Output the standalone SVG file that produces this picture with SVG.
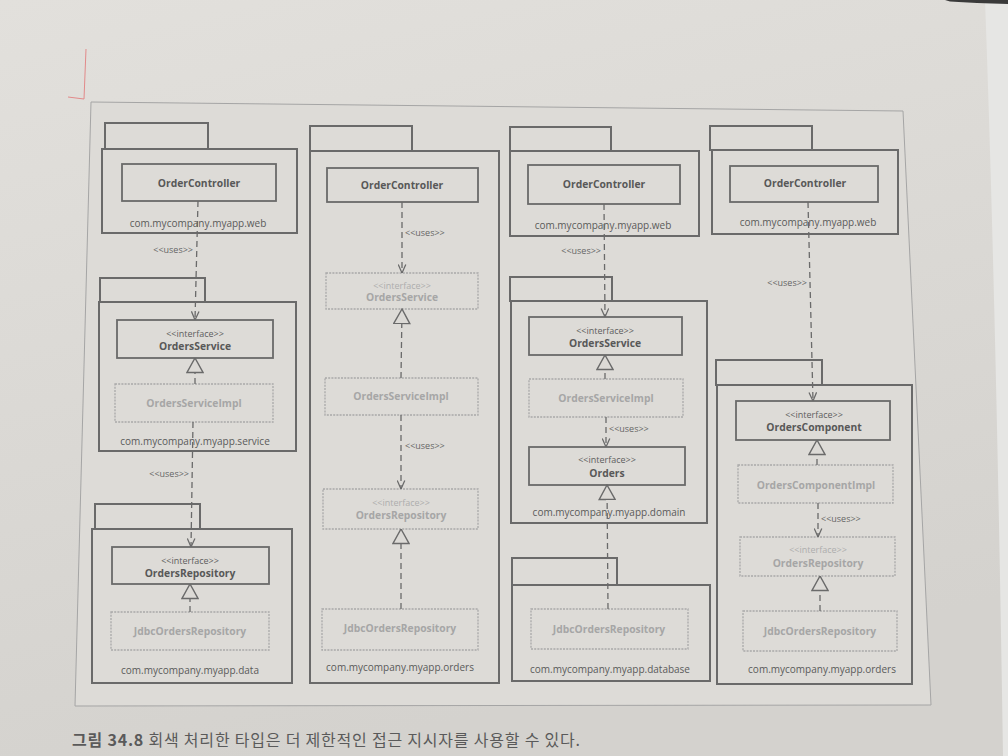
<svg xmlns="http://www.w3.org/2000/svg" width="1008" height="756" viewBox="0 0 1008 756">
<defs>
<linearGradient id="bg" x1="0" y1="0" x2="0.3" y2="1">
<stop offset="0" stop-color="#e2e0dc"/>
<stop offset="1" stop-color="#d4d2ce"/>
</linearGradient>
<marker id="open" viewBox="0 0 10 10" refX="10" refY="5" markerWidth="9" markerHeight="9" orient="auto" markerUnits="userSpaceOnUse">
<path d="M0.5,0.8 L10,5 L0.5,9.2" fill="none" stroke="#6a6a6a" stroke-width="1.4"/>
</marker>
<marker id="tri" viewBox="0 0 16 18" refX="15.5" refY="9" markerWidth="16" markerHeight="18" orient="auto" markerUnits="userSpaceOnUse">
<path d="M15.5,9 L1,1 L1,17 Z" fill="#dcdad6" stroke="#6a6a6a" stroke-width="1.4"/>
</marker>
<style>
.pkg{fill:none;stroke:#6a6a6a;stroke-width:2}
.cls{fill:none;stroke:#6a6a6a;stroke-width:1.8}
.gcls{fill:none;stroke:#a9a9a9;stroke-width:1.3;stroke-dasharray:2 1.2}
.dep{fill:none;stroke:#6a6a6a;stroke-width:1.3;stroke-dasharray:6 4}
.use{marker-end:url(#open)}
.real{marker-end:url(#tri)}
text{font-family:"Open Sans","Noto Sans","DejaVu Sans",sans-serif;text-anchor:middle}
.nm{font-size:10.3px;font-weight:bold;fill:#585858}
.gnm{font-size:10.3px;font-weight:bold;fill:#a6a6a6}
.st{font-size:9px;fill:#5e5e5e}
.gst{font-size:9px;fill:#adadad}
.pl{font-size:10px;fill:#5a5a5a}
.lbs{font-size:9px;fill:#666;text-anchor:start}
.lbe{font-size:9px;fill:#666;text-anchor:end}
</style>
</defs>
<rect x="0" y="0" width="1008" height="756" fill="url(#bg)"/>
<path d="M985,0 Q996,300 1003,756 L1008,756 L1008,0 Z" fill="#e6e6e4"/>
<path d="M945,0 L1008,0 L1008,4 Q975,3 950,1.5 Z" fill="#3a3a3a"/>
<polygon points="91,102 903,111 931,705 75,706" fill="#dddbd7" stroke="#a5a5a5" stroke-width="1"/>
<path d="M86,49 L84,99 L68,97" fill="none" stroke="#e28a8a" stroke-width="1"/>

<!-- Column 1 -->
<g id="pkg1-web"><rect class="pkg" x="105" y="123" width="103" height="26"/><rect class="pkg" x="102" y="149" width="195" height="84"/><text class="pl" x="198" y="227">com.mycompany.myapp.web</text></g>
<g id="c1-controller"><rect class="cls" x="122" y="164" width="154" height="37"/><text class="nm" x="199" y="186.5">OrderController</text></g>
<g id="pkg1-service"><rect class="pkg" x="100" y="278" width="105" height="24"/><rect class="pkg" x="99" y="302" width="197" height="149"/><text class="pl" x="195" y="445">com.mycompany.myapp.service</text></g>
<g id="c1-service"><rect class="cls" x="117" y="320" width="156" height="38"/><text class="st" x="195" y="337">&lt;&lt;interface&gt;&gt;</text><text class="nm" x="195" y="349.5">OrdersService</text></g>
<g id="c1-serviceimpl"><rect class="gcls" x="115" y="384" width="158" height="38"/><text class="gnm" x="194" y="407">OrdersServiceImpl</text></g>
<g id="pkg1-data"><rect class="pkg" x="95" y="504" width="105" height="25"/><rect class="pkg" x="92" y="529" width="200" height="154"/><text class="pl" x="190" y="674">com.mycompany.myapp.data</text></g>
<g id="c1-repo"><rect class="cls" x="112" y="547" width="157" height="37"/><text class="st" x="190" y="564">&lt;&lt;interface&gt;&gt;</text><text class="nm" x="190" y="577">OrdersRepository</text></g>
<g id="c1-jdbc"><rect class="gcls" x="111" y="612" width="158" height="38"/><text class="gnm" x="190" y="635">JdbcOrdersRepository</text></g>

<!-- Column 2 -->
<g id="pkg2-orders"><rect class="pkg" x="310" y="126" width="102" height="25"/><rect class="pkg" x="310" y="151" width="189" height="532"/><text class="pl" x="400" y="671">com.mycompany.myapp.orders</text></g>
<g id="c2-controller"><rect class="cls" x="327" y="168" width="151" height="34"/><text class="nm" x="402" y="189">OrderController</text></g>
<g id="c2-service"><rect class="gcls" x="326" y="273" width="152" height="36"/><text class="gst" x="402" y="289">&lt;&lt;interface&gt;&gt;</text><text class="gnm" x="402" y="301">OrdersService</text></g>
<g id="c2-serviceimpl"><rect class="gcls" x="325" y="378" width="153" height="37"/><text class="gnm" x="401" y="400">OrdersServiceImpl</text></g>
<g id="c2-repo"><rect class="gcls" x="323" y="489" width="155" height="40"/><text class="gst" x="401" y="506">&lt;&lt;interface&gt;&gt;</text><text class="gnm" x="401" y="519">OrdersRepository</text></g>
<g id="c2-jdbc"><rect class="gcls" x="322" y="609" width="156" height="41"/><text class="gnm" x="400" y="632">JdbcOrdersRepository</text></g>

<!-- Column 3 -->
<g id="pkg3-web"><rect class="pkg" x="510" y="127" width="101" height="24"/><rect class="pkg" x="510" y="151" width="189" height="85"/><text class="pl" x="603" y="229">com.mycompany.myapp.web</text></g>
<g id="c3-controller"><rect class="cls" x="528" y="165" width="152" height="39"/><text class="nm" x="604" y="188">OrderController</text></g>
<g id="pkg3-domain"><rect class="pkg" x="510" y="277" width="102" height="24"/><rect class="pkg" x="511" y="301" width="196" height="222"/><text class="pl" x="609" y="516">com.mycompany.myapp.domain</text></g>
<g id="c3-service"><rect class="cls" x="529" y="317" width="153" height="38"/><text class="st" x="605" y="334">&lt;&lt;interface&gt;&gt;</text><text class="nm" x="605" y="346.5">OrdersService</text></g>
<g id="c3-serviceimpl"><rect class="gcls" x="529" y="379" width="154" height="38"/><text class="gnm" x="606" y="402">OrdersServiceImpl</text></g>
<g id="c3-orders"><rect class="cls" x="529" y="447" width="156" height="38"/><text class="st" x="607" y="463">&lt;&lt;interface&gt;&gt;</text><text class="nm" x="607" y="477">Orders</text></g>
<g id="pkg3-database"><rect class="pkg" x="512" y="558" width="105" height="27"/><rect class="pkg" x="512" y="585" width="198" height="96"/><text class="pl" x="610" y="673">com.mycompany.myapp.database</text></g>
<g id="c3-jdbc"><rect class="gcls" x="531" y="609" width="157" height="40"/><text class="gnm" x="609" y="633">JdbcOrdersRepository</text></g>

<!-- Column 4 -->
<g id="pkg4-web"><rect class="pkg" x="710" y="126" width="102" height="24"/><rect class="pkg" x="712" y="150" width="186" height="84"/><text class="pl" x="808" y="226">com.mycompany.myapp.web</text></g>
<g id="c4-controller"><rect class="cls" x="730" y="166" width="148" height="36"/><text class="nm" x="805" y="187">OrderController</text></g>
<g id="pkg4-orders"><rect class="pkg" x="716" y="360" width="106" height="25"/><rect class="pkg" x="717" y="385" width="195" height="299"/><text class="pl" x="822" y="673">com.mycompany.myapp.orders</text></g>
<g id="c4-component"><rect class="cls" x="736" y="401" width="154" height="39"/><text class="st" x="814" y="418">&lt;&lt;interface&gt;&gt;</text><text class="nm" x="814" y="430.5">OrdersComponent</text></g>
<g id="c4-componentimpl"><rect class="gcls" x="738" y="465" width="155" height="38"/><text class="gnm" x="816" y="489">OrdersComponentImpl</text></g>
<g id="c4-repo"><rect class="gcls" x="740" y="537" width="155" height="39"/><text class="gst" x="818" y="553">&lt;&lt;interface&gt;&gt;</text><text class="gnm" x="818" y="567">OrdersRepository</text></g>
<g id="c4-jdbc"><rect class="gcls" x="743" y="611" width="154" height="40"/><text class="gnm" x="820" y="635">JdbcOrdersRepository</text></g>

<g id="connectors">
<path class="dep use" d="M198,201 L195,320"/>
<text class="lbe" x="193" y="253">&lt;&lt;uses&gt;&gt;</text>
<path class="dep real" d="M195,384 L195,358"/>
<path class="dep use" d="M193,422 L191,547"/>
<text class="lbe" x="189" y="477">&lt;&lt;uses&gt;&gt;</text>
<path class="dep real" d="M190,612 L190,584"/>

<path class="dep use" d="M402,202 L402,273"/>
<text class="lbs" x="405" y="236">&lt;&lt;uses&gt;&gt;</text>
<path class="dep real" d="M401,378 L402,309"/>
<path class="dep use" d="M401,415 L401,489"/>
<text class="lbs" x="405" y="449">&lt;&lt;uses&gt;&gt;</text>
<path class="dep real" d="M401,609 L401,529"/>

<path class="dep use" d="M604,204 L605,317"/>
<text class="lbe" x="601" y="254">&lt;&lt;uses&gt;&gt;</text>
<path class="dep real" d="M605,379 L605,355"/>
<path class="dep use" d="M606,417 L606,447"/>
<text class="lbs" x="609" y="432">&lt;&lt;uses&gt;&gt;</text>
<path class="dep real" d="M608,609 L607,485"/>

<path class="dep use" d="M808,202 L813,401"/>
<text class="lbe" x="807" y="286">&lt;&lt;uses&gt;&gt;</text>
<path class="dep real" d="M817,465 L817,440"/>
<path class="dep use" d="M818,503 L818,537"/>
<text class="lbs" x="821" y="522">&lt;&lt;uses&gt;&gt;</text>
<path class="dep real" d="M820,611 L820,576"/>
</g>

<text x="72" y="746" textLength="508" lengthAdjust="spacing" style="font-family:'Noto Sans CJK KR','Noto Sans',sans-serif;font-size:16px;fill:#5a5a5a;text-anchor:start"><tspan font-weight="bold">그림 34.8</tspan> 회색 처리한 타입은 더 제한적인 접근 지시자를 사용할 수 있다.</text>
</svg>
